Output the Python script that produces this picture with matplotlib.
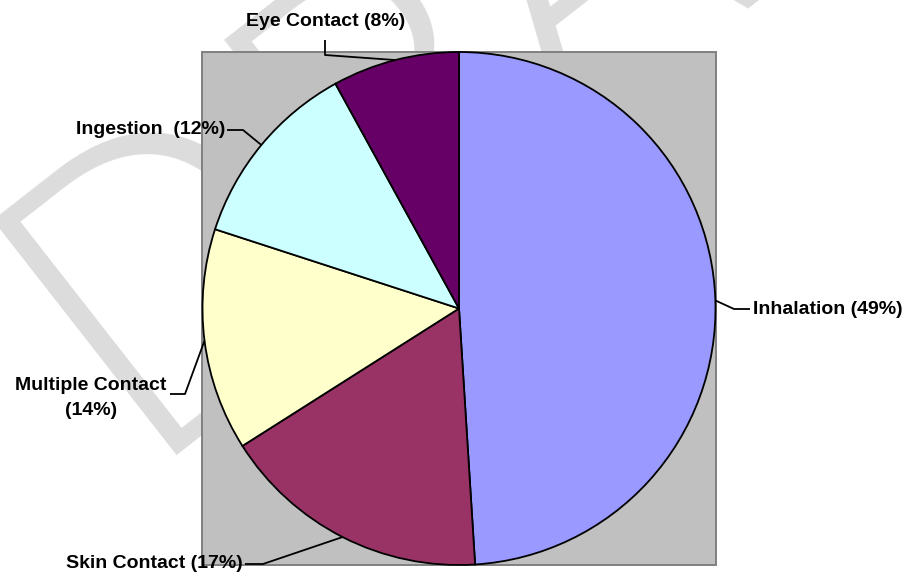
import matplotlib
matplotlib.use("Agg")
import matplotlib.pyplot as plt
from matplotlib.patches import Rectangle
from matplotlib import font_manager as fm
import numpy as np

# ---- data ----
categories = ["Inhalation", "Skin Contact", "Multiple Contact", "Ingestion", "Eye Contact"]
values = [49, 17, 14, 12, 8]
label_texts = ["Inhalation (49%)", "Skin Contact (17%)", "Multiple Contact\n(14%)",
               "Ingestion  (12%)", "Eye Contact (8%)"]
colors = ["#9999FF", "#993366", "#FFFFCC", "#CCFFFF", "#660066"]

W, H = 908, 572
fig = plt.figure(figsize=(W / 100, H / 100), dpi=100)
ax = fig.add_axes([0, 0, 1, 1])

def P(x, y):
    """image pixel coords -> data coords"""
    return x, H - y

# watermark font: prefer a light-weight sans
wm_prop = None
for f in fm.findSystemFonts():
    name = f.split("/")[-1].lower()
    if name in ("lato-light.ttf", "opensans-light.ttf"):
        wm_prop = fm.FontProperties(fname=f, size=300)
        break
if wm_prop is None:
    wm_prop = fm.FontProperties(family=["Lato", "DejaVu Sans"], weight="normal", size=280)

# watermark (decoration, behind the chart)
wx, wy = P(135, 455)
ax.text(wx, wy, "DRAFT", rotation=38, rotation_mode="anchor", ha="left", va="baseline",
        fontproperties=wm_prop, color="#DCDCDC", zorder=0)

# plot area background
rx0, rx1, ry0, ry1 = 202, 716, 52, 565
ax.add_patch(Rectangle(P(rx0, ry1), rx1 - rx0, ry1 - ry0, facecolor="#C0C0C0",
                       edgecolor="#808080", linewidth=1.4, zorder=1))

cx, cy = P((rx0 + rx1) / 2, (ry0 + ry1) / 2)
radius = (ry1 - ry0) / 2
wedges, _ = ax.pie(values, colors=colors, startangle=90, counterclock=False,
                   center=(cx, cy), radius=radius,
                   wedgeprops=dict(edgecolor="black", linewidth=1.3))
for w in wedges:
    w.set_zorder(2)

# label layout: (elbow, line end, text position, ha)
layout = [
    ((734, 309), (750, 309), (753, 309), "left"),
    ((263, 564), (245, 564), (243, 564), "right"),
    ((185, 394), (170, 394), (91, 398), "center"),
    ((243, 130), (227, 130), (225, 130), "right"),
    ((325, 55), (325, 40), (326, 22), "center"),
]

for w, txt, (elb, end, tpos, ha) in zip(wedges, label_texts, layout):
    mid = np.deg2rad((w.theta1 + w.theta2) / 2)
    ex = w.center[0] + w.r * np.cos(mid)
    ey = w.center[1] + w.r * np.sin(mid)
    xs = [ex, P(*elb)[0], P(*end)[0]]
    ys = [ey, P(*elb)[1], P(*end)[1]]
    ax.plot(xs, ys, color="black", linewidth=1.3, zorder=3, solid_capstyle="butt")
    tx, ty = P(*tpos)
    ax.text(tx, ty, txt, ha=ha, va="center", multialignment="center",
            fontsize=14, fontweight="bold", family="Liberation Sans",
            linespacing=1.55, color="black", zorder=4)

ax.set_xlim(0, W)
ax.set_ylim(0, H)
ax.set_aspect("auto")
ax.axis("off")

fig.savefig("out.png", dpi=100, facecolor="white")
